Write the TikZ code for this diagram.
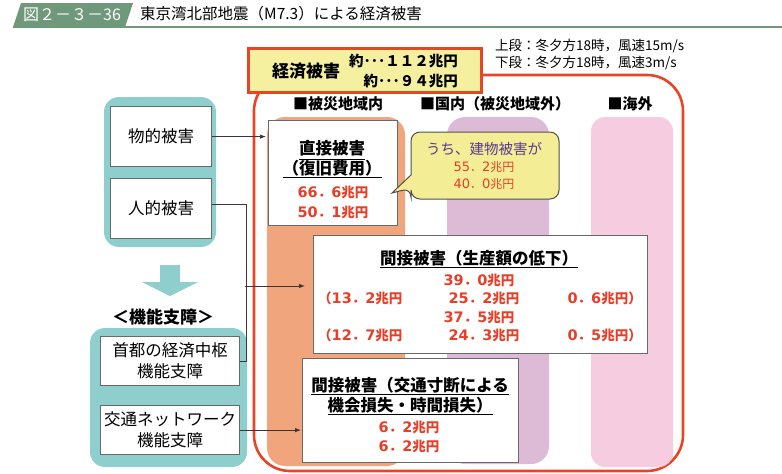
\documentclass[tikz,border=0pt]{standalone}
\usepackage{fontspec}
\setmainfont{Noto Sans CJK JP}
\newfontfamily\dvfam{DejaVu Sans}
\usetikzlibrary{arrows.meta}
\definecolor{tgreen}{RGB}{112,152,122}
\definecolor{redline}{RGB}{232,68,38}
\definecolor{redtext}{RGB}{232,62,40}
\definecolor{cyel}{RGB}{245,240,160}
\definecolor{byel}{RGB}{243,238,150}
\definecolor{corng}{RGB}{240,165,125}
\definecolor{cpurp}{RGB}{221,186,214}
\definecolor{cpink}{RGB}{246,205,224}
\definecolor{cteal}{RGB}{142,207,206}
\definecolor{ptext}{RGB}{92,56,140}
\definecolor{boxgray}{RGB}{105,105,105}
\definecolor{connc}{RGB}{60,55,55}
\definecolor{bubline}{RGB}{80,80,70}
\newcommand\myfs[1]{\fontsize{#1}{#1}\selectfont}
\newcommand\myul[2][4]{\setbox0\hbox{#2}\rlap{\raisebox{0pt}[0pt][0pt]{\rule[-#1pt]{\wd0}{1.3pt}}}\box0}
% wide digits
\newcommand\dg[1]{{\dvfam\fontsize{14.5}{14.5}\selectfont #1}}
\newcommand\dgs[1]{{\dvfam\fontsize{13}{13}\selectfont #1}}
\begin{document}
\begin{tikzpicture}[x=1pt,y=-1pt,
  every node/.style={inner sep=0pt},
  box/.style={draw=boxgray, line width=1.2pt, fill=white, anchor=north west},
  boxtext/.style={font=\myfs{16.5}, align=center},
  hd/.style={font=\fontsize{16.5}{20}\selectfont\bfseries},
  hdr/.style={font=\myfs{15}\bfseries},
  redb/.style={text=redtext, font=\myfs{13.5}\bfseries},
  conn/.style={draw=connc, line width=0.8pt},
  arr/.style={conn, -{Latex[length=6pt,width=4.5pt]}}]
\useasboundingbox (0,0) rectangle (782,474);
% title bar
\fill[tgreen] (21,3) -- (133,3) -- (125,27) -- (13,27) -- cycle;
\draw[tgreen, line width=1.5pt] (13,27) -- (782,27);
\node[text=white, font=\myfs{16}] (fig) at (72,15) {図２－３－36};
\node[anchor=west, font=\myfs{15.5}] (title) at (140,14) {東京湾北部地震（M7.3）による経済被害};
% notes
\node[anchor=west, font=\myfs{13.5}] (n1) at (495,46) {上段：冬夕方18時，風速15m/s};
\node[anchor=west, font=\myfs{13.5}] (n2) at (495,63) {下段：冬夕方18時，風速3m/s};
% big frame
\draw[redline, line width=2.6pt, rounded corners=36pt] (254,75) rectangle (683,471);
% columns
\fill[corng, rounded corners=18pt] (267,117) rectangle (405,466);
\fill[cpurp, rounded corners=18pt] (447,117) rectangle (549,464);
\fill[cpink, rounded corners=14pt] (591,117) rectangle (673,467);
% headers
\node[hdr] (h1) at (338,104) {■被災地域内};
\node[hdr] (h2) at (495,104) {■国内（被災地域外）};
\node[hdr] (h3) at (630,104) {■海外};
% economic damage box
\node[draw=redline, line width=2.6pt, fill=cyel, minimum width=233pt, minimum height=44pt, anchor=north west] (econ) at (247,47) {};
\node[font=\myfs{17}\bfseries] (econL) at (306,71) {経済被害};
\node[anchor=east, font=\myfs{14.5}\bfseries] (e1) at (458,61) {約･･･１１２兆円};
\node[anchor=east, font=\myfs{14.5}\bfseries] (e2) at (458,81) {約･･･９４兆円};
% left panels
\fill[cteal, rounded corners=15pt] (104,97) rectangle (216,247);
\node[box, boxtext, minimum width=101pt, minimum height=60pt] (butsu) at (110,106) {物的被害};
\node[box, boxtext, minimum width=101pt, minimum height=60pt] (jin) at (110,178) {人的被害};
\fill[cteal] (160,265) -- (180,265) -- (180,282) -- (198,282) -- (170,296) -- (142,282) -- (160,282) -- cycle;
\node[font=\myfs{17}\bfseries] (kino) at (163,317) {＜機能支障＞};
\fill[cteal, rounded corners=15pt] (90,328) rectangle (247,467);
\node[box, font=\fontsize{16.5}{21}\selectfont, align=center, minimum width=139pt, minimum height=49pt] (shuto) at (100,336) {首都の経済中枢\\機能支障};
\node[box, font=\fontsize{16.5}{21}\selectfont, align=center, minimum width=139pt, minimum height=49pt] (kotsu) at (100,405) {交通ネットワーク\\機能支障};
% direct damage
\node[box, minimum width=129pt, minimum height=105pt] (direct) at (268,120) {};
\node[hd] (d1) at (332,148) {\myul[6]{直接被害}};
\node[hd] (d2) at (332,168) {\myul{（復旧費用）}};
\node[redb] (d3) at (333,192) {\dg{66}．\dg{6}兆円};
\node[redb] (d4) at (333,212) {\dg{50}．\dg{1}兆円};
% bubble
\draw[fill=byel, draw=bubline, line width=1pt] (411,150) [rounded corners=9pt] -- (411,132) -- (559,132) -- (559,199) -- (411,199) -- (411,188) [sharp corners] -- (392,193) -- (411,175) -- cycle;
\node[font=\myfs{14.5}, text=ptext] (b1) at (484,149) {うち、建物被害が};
\node[font=\myfs{12}, text=redtext] (b2) at (484,167) {\dgs{55}．\dgs{2}兆円};
\node[font=\myfs{12}, text=redtext] (b3) at (484,184) {\dgs{40}．\dgs{0}兆円};
% production loss
\node[box, minimum width=334pt, minimum height=118pt] (prod) at (313,235) {};
\node[hd] (p1) at (479,258) {\myul{間接被害（生産額の低下）}};
\node[redb] (p2) at (479,280) {\dg{39}．\dg{0}兆円};
\node[redb, anchor=west] (p3) at (318,298) {（\dg{13}．\dg{2}兆円};
\node[redb] (p4) at (484,298) {\dg{25}．\dg{2}兆円};
\node[redb, anchor=east] (p5) at (642,298) {\dg{0}．\dg{6}兆円）};
\node[redb] (p6) at (479,317) {\dg{37}．\dg{5}兆円};
\node[redb, anchor=west] (p7) at (318,335) {（\dg{12}．\dg{7}兆円};
\node[redb] (p8) at (484,335) {\dg{24}．\dg{3}兆円};
\node[redb, anchor=east] (p9) at (642,335) {\dg{0}．\dg{5}兆円）};
% traffic loss
\node[box, minimum width=216pt, minimum height=104pt] (traf) at (302,358) {};
\node[hd] (t1) at (410,385) {\myul{間接被害（交通寸断による}};
\node[hd] (t2) at (410,405) {\myul{機会損失・時間損失）}};
\node[redb] (t3) at (409,427) {\dg{6}．\dg{2}兆円};
\node[redb] (t4) at (409,446) {\dg{6}．\dg{2}兆円};
% connectors
\draw[arr, shorten >=2pt] (butsu.east) -- (butsu.east -| direct.west);
\draw[conn] ([yshift=4pt]jin.east) -- ++(34,0) coordinate (jt) |- (shuto.east);
\coordinate (pj) at (245,286);
\draw[arr, shorten >=8pt] (pj) -- (pj -| prod.west);
\draw[arr, shorten >=1pt] (kotsu.east) -- (kotsu.east -| traf.west);
\end{tikzpicture}
\end{document}
